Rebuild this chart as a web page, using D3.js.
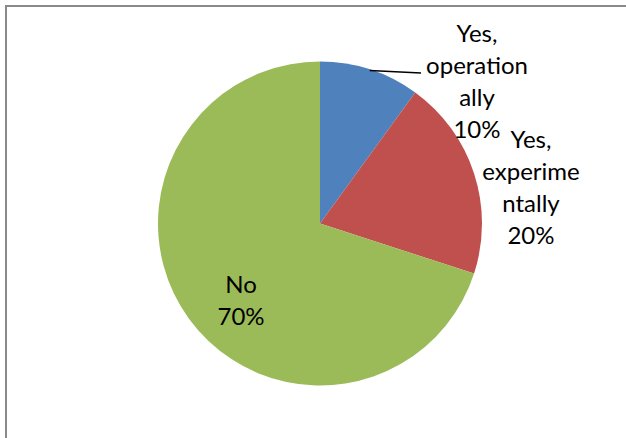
<!DOCTYPE html>
<html>
<head>
<meta charset="utf-8">
<script src="https://cdn.jsdelivr.net/npm/d3@7"></script>
<style>
  html, body { margin: 0; padding: 0; background: #fff; }
  svg { display: block; }
  text { font-family: Lato, "Open Sans", sans-serif; fill: #000; }
</style>
</head>
<body>
<svg id="chart" width="626" height="438"></svg>
<script>
// Survey answers and their shares (%)
const categories = ["Yes, operationally", "Yes, experimentally", "No"];
const values = [10, 20, 70];
const colors = ["#4F81BD", "#C0504D", "#9BBB59"];
// Wrapped label lines for each slice
const labelLines = [
  ["Yes,", "operation", "ally", "10%"],
  ["Yes,", "experime", "ntally", "20%"],
  ["No", "70%"]
];

const svg = d3.select("#chart");
const width = 626, height = 438;

// Chart frame: only the top and left edges fall inside the view
svg.append("rect")
  .attr("x", 6).attr("y", 6)
  .attr("width", 700).attr("height", 500)
  .attr("fill", "none")
  .attr("stroke", "#8a8a8a")
  .attr("stroke-width", 2);

const cx = 320, cy = 223.5, radius = 162;

const color = d3.scaleOrdinal().domain(categories).range(colors);

const pie = d3.pie().value(d => d.value).sort(null).startAngle(0);
const arcs = pie(categories.map((c, i) => ({ name: c, value: values[i], lines: labelLines[i] })));

const arc = d3.arc().innerRadius(0).outerRadius(radius);

const g = svg.append("g").attr("transform", `translate(${cx},${cy})`);

g.selectAll("path.slice")
  .data(arcs)
  .join("path")
  .attr("class", "slice")
  .attr("d", arc)
  .attr("fill", d => color(d.data.name));

// Label placement (relative to pie centre): centre x, first baseline, line step
const labelPos = [
  { x: 157, y: -181.5, step: 32 },
  { x: 211, y: -75.5, step: 32 },
  { x: -79, y: 69, step: 32.7 }
];

// Leader line from the outer edge of the first slice to its label
const first = arcs[0];
const midA = (first.startAngle + first.endAngle) / 2;
const lx0 = Math.sin(midA) * (radius - 1), ly0 = -Math.cos(midA) * (radius - 1);
g.append("path")
  .attr("d", `M${lx0},${ly0}L${101},${-150.5}`)
  .attr("fill", "none")
  .attr("stroke", "#000")
  .attr("stroke-width", 1.5);

const fontSize = 24;
arcs.forEach((d, i) => {
  const p = labelPos[i];
  const t = g.append("text")
    .attr("text-anchor", "middle")
    .attr("font-size", fontSize);
  d.data.lines.forEach((line, j) => {
    t.append("tspan")
      .attr("x", p.x)
      .attr("y", p.y + j * p.step)
      .text(line);
  });
});
</script>
</body>
</html>
